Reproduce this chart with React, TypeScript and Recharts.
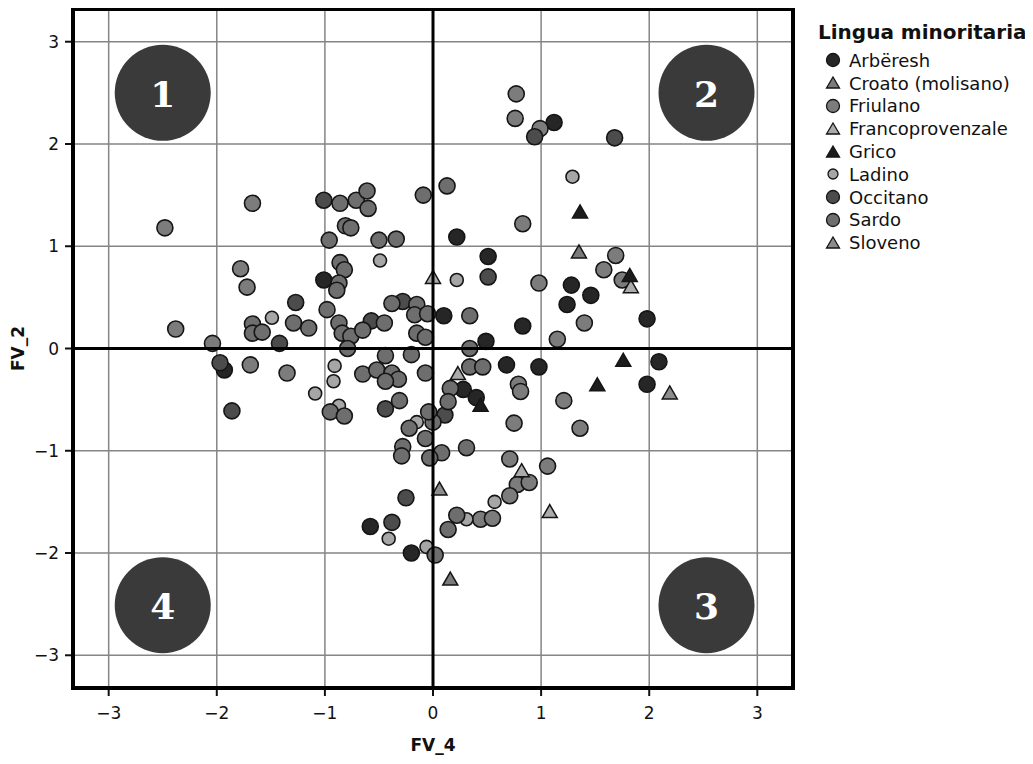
import { ScatterChart, Scatter, XAxis, YAxis, CartesianGrid, ReferenceLine, ReferenceArea, Legend, Label } from "recharts";

// [FV_4, FV_2] pairs
const arberesh: [number, number][] = [
	[-1.01, 0.67], [1.12, 2.21], [0.22, 1.09], [0.51, 0.9], [1.28, 0.62], [1.46, 0.52], [1.24, 0.43],
	[0.1, 0.32], [0.83, 0.22], [1.98, 0.29], [0.49, 0.07], [0.68, -0.16], [0.98, -0.18], [2.09, -0.13],
	[1.98, -0.35], [0.28, -0.4], [0.4, -0.48], [-1.93, -0.21], [-0.58, -1.74], [-0.2, -2.0],
];
const croato: [number, number][] = [[0.16, -2.26], [1.35, 0.94]];
const friulano: [number, number][] = [
	[0.77, 2.49], [0.76, 2.25], [0.99, 2.15], [0.83, 1.22], [1.69, 0.91], [1.58, 0.77], [1.75, 0.67],
	[0.98, 0.64], [1.4, 0.25], [1.15, 0.09], [0.79, -0.35], [0.81, -0.42], [1.21, -0.51], [0.75, -0.73],
	[1.36, -0.78], [0.71, -1.08], [1.06, -1.15], [0.78, -1.33], [0.89, -1.31], [0.71, -1.44], [0.44, -1.67],
	[0.55, -1.66], [-1.67, 1.42], [-2.48, 1.18], [-2.38, 0.19], [-1.78, 0.78], [-1.72, 0.6], [-2.04, 0.05],
	[-1.69, -0.16], [-1.35, -0.24],
];
const francoprovenzale: [number, number][] = [[0.0, 0.69], [1.83, 0.6], [0.23, -0.25], [0.82, -1.2], [1.08, -1.6]];
const grico: [number, number][] = [[1.36, 1.33], [1.82, 0.71], [1.76, -0.12], [1.52, -0.36], [0.44, -0.56]];
const ladino: [number, number][] = [
	[-0.49, 0.86], [-1.49, 0.3], [1.29, 1.68], [0.22, 0.67], [-0.91, -0.17], [-0.92, -0.32], [-1.09, -0.44],
	[-0.87, -0.56], [-0.15, -0.72], [0.57, -1.5], [0.31, -1.67], [-0.41, -1.86], [-0.06, -1.94],
];
const occitano: [number, number][] = [
	[-1.01, 1.45], [0.94, 2.07], [1.68, 2.06], [-1.27, 0.45], [-0.57, 0.27], [-0.28, 0.46], [0.51, 0.7],
	[-1.42, 0.05], [-1.97, -0.14], [-1.86, -0.61], [-0.44, -0.59], [0.11, -0.65], [-0.25, -1.46], [-0.38, -1.7],
];
const sardo: [number, number][] = [
	[-0.86, 1.42], [-0.71, 1.45], [-0.61, 1.54], [-0.6, 1.37], [-0.81, 1.2], [-0.76, 1.18], [-0.96, 1.06],
	[-0.5, 1.06], [-0.34, 1.07], [-0.09, 1.5], [-0.86, 0.84], [-0.82, 0.77], [-0.87, 0.64], [-0.89, 0.57],
	[-1.67, 0.24], [-1.67, 0.15], [-1.58, 0.16], [-1.29, 0.25], [-1.15, 0.2], [-0.98, 0.38], [-0.87, 0.25],
	[-0.84, 0.15], [-0.76, 0.12], [-0.65, 0.18], [-0.45, 0.25], [-0.38, 0.44], [-0.15, 0.43], [-0.17, 0.33],
	[-0.05, 0.34], [-0.15, 0.15], [-0.07, 0.11], [0.13, 1.59], [0.34, 0.32], [0.34, 0.0], [0.34, -0.18],
	[0.46, -0.18], [0.16, -0.39], [0.14, -0.52], [0.0, -0.72], [0.31, -0.97], [0.08, -1.02], [0.22, -1.63],
	[0.14, -1.77], [0.02, -2.02], [-0.95, -0.62], [-0.82, -0.66], [-0.65, -0.25], [-0.52, -0.21],
	[-0.44, -0.07], [-0.38, -0.24], [-0.32, -0.3], [-0.44, -0.32], [-0.2, -0.06], [-0.07, -0.24],
	[-0.31, -0.51], [-0.04, -0.62], [-0.22, -0.78], [-0.07, -0.88], [-0.28, -0.96], [-0.29, -1.05],
	[-0.03, -1.07], [-0.79, 0.0],
];
const sloveno: [number, number][] = [[2.19, -0.44], [0.06, -1.38]];

const quadX = [-2.5, 2.53, 2.53, -2.5];
const quadY = [2.5, 2.5, -2.51, -2.51];
const quadLabels = ["1", "2", "3", "4"];

const ticks = [-3, -2, -1, 0, 1, 2, 3];

const series = [
	{ name: "Arbëresh", pts: arberesh, fill: "#262626", kind: "circle", r: 8 },
	{ name: "Croato (molisano)", pts: croato, fill: "#7a7a7a", kind: "tri", r: 8 },
	{ name: "Friulano", pts: friulano, fill: "#7c7c7c", kind: "circle", r: 8 },
	{ name: "Francoprovenzale", pts: francoprovenzale, fill: "#ababab", kind: "tri", r: 8 },
	{ name: "Grico", pts: grico, fill: "#1c1c1c", kind: "tri", r: 8 },
	{ name: "Ladino", pts: ladino, fill: "#a6a6a6", kind: "circle", r: 6.5 },
	{ name: "Occitano", pts: occitano, fill: "#4c4c4c", kind: "circle", r: 8 },
	{ name: "Sardo", pts: sardo, fill: "#6e6e6e", kind: "circle", r: 8 },
	{ name: "Sloveno", pts: sloveno, fill: "#8c8c8c", kind: "tri", r: 8 },
];

const quadData = quadX.map((x, i) => ({ x, y: quadY[i], label: quadLabels[i] }));

const fmt = (v: number) => (v < 0 ? "\u2212" + Math.abs(v) : String(v));

const marker = (kind: string, fill: string, r: number) => (p: any) => {
	if (kind === "tri") {
		const d = `M${p.cx},${p.cy - 7.5} L${p.cx + 7.5},${p.cy + 5.5} L${p.cx - 7.5},${p.cy + 5.5} Z`;
		return <path d={d} fill={fill} stroke="#151515" strokeWidth={1.5} />;
	}
	return <circle cx={p.cx} cy={p.cy} r={r} fill={fill} stroke="#151515" strokeWidth={1.6} />;
};

const QuadShape = (p: any) => (
	<g>
		<circle cx={p.cx} cy={p.cy} r={48} fill="#3a3a3a" />
		<text
			x={p.cx}
			y={p.cy + 1}
			textAnchor="middle"
			dominantBaseline="central"
			fill="#fff"
			fontFamily="DejaVu Serif"
			fontWeight="bold"
			fontSize={36}
		>
			{p.payload.label}
		</text>
	</g>
);

const LegendBox = () => (
	<div style={{ fontFamily: "DejaVu Sans", color: "#111", textAlign: "left" }}>
		<div style={{ fontWeight: "bold", fontSize: 20, height: 22, lineHeight: "22px", marginBottom: 6 }}>
			Lingua minoritaria
		</div>
		{series.map((s) => (
			<div key={s.name} style={{ display: "flex", alignItems: "center", height: 22.8, paddingLeft: 7 }}>
				<svg width={16} height={16}>
					{s.kind === "tri" ? (
						<path d="M8,2 L14.5,13 L1.5,13 Z" fill={s.fill} stroke="#151515" strokeWidth={1.3} />
					) : (
						<circle cx={8} cy={8} r={s.r < 8 ? 5 : 6.5} fill={s.fill} stroke="#151515" strokeWidth={1.3} />
					)}
				</svg>
				<span style={{ fontSize: 18, marginLeft: 8, whiteSpace: "nowrap" }}>{s.name}</span>
			</div>
		))}
	</div>
);

export default function App() {
	return (
		<ScatterChart width={1017} height={748} margin={{ top: 1, right: 232, bottom: 8, left: 0 }}>
			<CartesianGrid stroke="#858585" strokeWidth={1.5} />
			<XAxis
				type="number"
				dataKey="x"
				domain={[-3.33, 3.33]}
				ticks={ticks}
				allowDataOverflow
				axisLine={false}
				tickSize={8}
				tickMargin={11}
				tickFormatter={fmt}
				height={60}
				tick={{ fill: "#111", fontSize: 17, fontFamily: "DejaVu Sans" }}
				tickLine={{ stroke: "#111", strokeWidth: 2 }}
			>
				<Label
					value="FV_4"
					position="insideBottom"
					offset={-3}
					style={{ fontFamily: "DejaVu Sans", fontWeight: "bold", fontSize: 17, fill: "#111" }}
				/>
			</XAxis>
			<YAxis
				type="number"
				dataKey="y"
				domain={[-3.32, 3.32]}
				ticks={ticks}
				allowDataOverflow
				axisLine={false}
				width={65}
				tickSize={8}
				tickMargin={6}
				tickFormatter={fmt}
				tick={{ fill: "#111", fontSize: 17, fontFamily: "DejaVu Sans" }}
				tickLine={{ stroke: "#111", strokeWidth: 2 }}
			>
				<Label
					value="FV_2"
					angle={-90}
					position="insideLeft"
					offset={10}
					style={{ textAnchor: "middle", fontFamily: "DejaVu Sans", fontWeight: "bold", fontSize: 17, fill: "#111" }}
				/>
			</YAxis>
			<Scatter data={quadData} shape={QuadShape} legendType="none" isAnimationActive={false} />
			{series.map((s) => (
				<Scatter
					key={s.name}
					name={s.name}
					data={s.pts.map(([x, y]) => ({ x, y }))}
					fill={s.fill}
					shape={marker(s.kind, s.fill, s.r)}
					isAnimationActive={false}
				/>
			))}
			<ReferenceLine x={0} stroke="#000" strokeWidth={3} zIndex={1000} />
			<ReferenceLine y={0} stroke="#000" strokeWidth={3} zIndex={1000} />
			<ReferenceArea x1={-3.33} x2={3.33} y1={-3.32} y2={3.32} fill="none" stroke="#000" strokeWidth={4} zIndex={1000} />
			<Legend
				layout="vertical"
				align="center"
				verticalAlign="middle"
				content={<LegendBox />}
				wrapperStyle={{ left: 810, top: 13, width: 215 }}
			/>
		</ScatterChart>
	);
}
